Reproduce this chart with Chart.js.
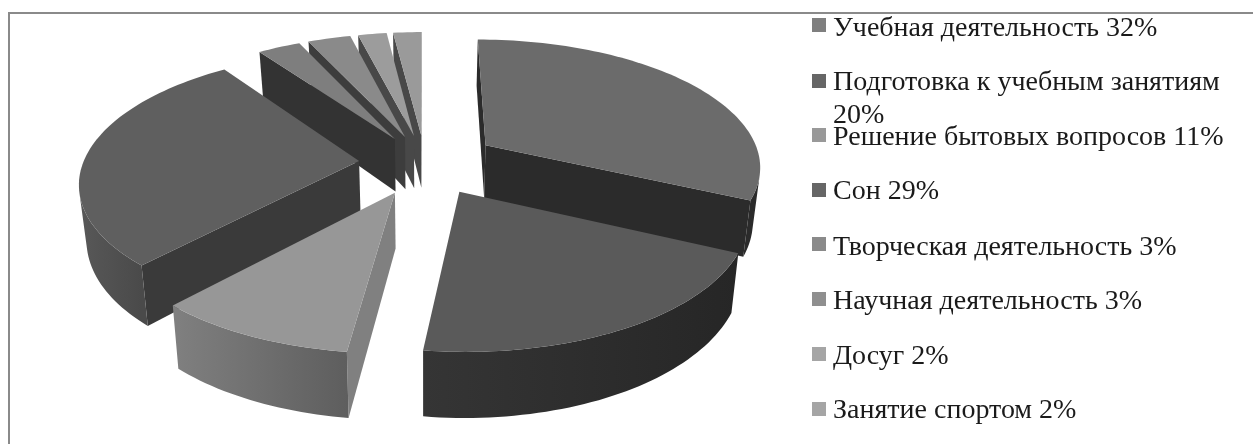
<!DOCTYPE html>
<html>
<head>
<meta charset="utf-8">
<script src="https://cdn.jsdelivr.net/npm/chart.js@4"></script>
<style>
    html, body { margin: 0; padding: 0; background: #fff; overflow: hidden; }
    #wrap { position: relative; width: 1253px; height: 444px; }
    #frame { position: absolute; left: 8px; top: 12px; right: -4px; bottom: -4px; border: 2px solid #8a8a8a; }
    #legend { position: absolute; left: 0; top: 0; font-family: "Liberation Serif", serif; font-size: 28px; color: #1a1a1a; }
    .row { position: absolute; left: 833px; width: 400px; line-height: 33px; white-space: normal; }
    .box { position: absolute; left: -21px; width: 14px; height: 14px; }
</style>
</head>
<body>
<div id="wrap">
    <canvas id="grafico"></canvas>
    <div id="frame"></div>
    <div id="legend"></div>
</div>
<script>
const categorias = ['Учебная деятельность', 'Подготовка к учебным занятиям', 'Решение бытовых вопросов', 'Сон', 'Творческая деятельность', 'Научная деятельность', 'Досуг', 'Занятие спортом'];
// lo que dice la leyenda
const porcentajes = [32, 20, 11, 29, 3, 3, 2, 2];
// tamano de cada porcion leido del dibujo, no coincide exacto con la leyenda
const sectores = [32.6, 20.4, 10, 28.9, 3, 3, 2, 2];

// colores
const colorLeyenda = ['#7f7f7f', '#666666', '#999999', '#666666', '#8a8a8a', '#8f8f8f', '#a5a5a5', '#a5a5a5'];
const colorTapa = ['#6b6b6b', '#5a5a5a', '#979797', '#5f5f5f', '#7e7e7e', '#8a8a8a', '#9c9c9c', '#9a9a9a'];
const colorPared = ['#2b2b2b', '#2b2b2b', '#808080', '#3a3a3a', '#333333', '#3d3d3d', '#484848', '#484848'];
const colorLadoIni = ['#2b2b2b', '#262626', '#5e5e5e', '#4a4a4a', '#3c3c3c', '#3c3c3c', '#464646', '#464646'];
const colorLadoFin = ['#2b2b2b', '#353535', '#808080', '#585858', '#3c3c3c', '#3c3c3c', '#464646', '#464646'];

// separacion de cada porcion
const separacion = [52, 49, 49, 47, 44, 44, 44, 44];

// orden de pintado, de atras hacia adelante
const ordenPintado = [7, 6, 5, 4, 0, 3, 2, 1];

// camara de la vista 3d
const camara = { x0: 425, y0: 163, escalaX: 276, escalaY: 126.6, fuga: 0.15, alto: 54, fugaAlto: 0.022 };

function proyectar(u, v, z) {
    const s = 1 / (1 - camara.fuga * v);
    return {
        x: camara.x0 + camara.escalaX * u * s * (1 - camara.fugaAlto * z),
        y: camara.y0 + camara.escalaY * v * s + z * camara.alto * s
    };
}

function relleno(ctx, puntos, color) {
    ctx.beginPath();
    puntos.forEach((p, i) => i ? ctx.lineTo(p.x, p.y) : ctx.moveTo(p.x, p.y));
    ctx.closePath();
    ctx.fillStyle = color;
    ctx.fill();
}

// la cara se ve solo si mira hacia la camara
function visible(a, b) {
    const p = proyectar(a.u, a.v, 0), q = proyectar(b.u, b.v, 0), r = proyectar(b.u, b.v, 1);
    return (q.x - p.x) * (r.y - p.y) - (q.y - p.y) * (r.x - p.x) < 0;
}

function pared(ctx, a, b, color) {
    if (!visible(a, b)) return;
    relleno(ctx, [proyectar(a.u, a.v, 0), proyectar(b.u, b.v, 0), proyectar(b.u, b.v, 1), proyectar(a.u, a.v, 1)], color);
}

function ladoCurvo(ctx, borde, i) {
    const vistos = borde.filter((b, k) => (k > 0 && visible(borde[k - 1], b)) || (k < borde.length - 1 && visible(b, borde[k + 1])));
    if (vistos.length < 2) return;
    const arriba = vistos.map(b => proyectar(b.u, b.v, 0));
    const abajo = vistos.map(b => proyectar(b.u, b.v, 1)).reverse();
    const grad = ctx.createLinearGradient(arriba[0].x, 0, arriba[arriba.length - 1].x, 0);
    grad.addColorStop(0, colorLadoIni[i]);
    grad.addColorStop(1, colorLadoFin[i]);
    relleno(ctx, arriba.concat(abajo), grad);
}

function dibujarPorcion(ctx, arc, i) {
    const p = arc.getProps(['startAngle', 'endAngle', 'outerRadius']);
    const medio = (p.startAngle + p.endAngle) / 2;
    const ox = Math.cos(medio) * arc.options.offset / p.outerRadius;
    const oy = Math.sin(medio) * arc.options.offset / p.outerRadius;

    const centro = { u: ox, v: oy };
    const borde = [];
    const pasos = Math.max(6, Math.round((p.endAngle - p.startAngle) * 40));
    for (let k = 0; k <= pasos; k++) {
        const ang = p.startAngle + (p.endAngle - p.startAngle) * k / pasos;
        borde.push({ u: ox + Math.cos(ang), v: oy + Math.sin(ang) });
    }

    pared(ctx, centro, borde[0], colorPared[i]);
    pared(ctx, borde[pasos], centro, colorPared[i]);
    ladoCurvo(ctx, borde, i);
    relleno(ctx, [centro].concat(borde).map(b => proyectar(b.u, b.v, 0)), colorTapa[i]);
}

const pie3d = {
    id: 'pie3d',
    beforeDatasetsDraw(chart) {
        const ctx = chart.ctx;
        const arcos = chart.getDatasetMeta(0).data;
        ctx.save();
        ordenPintado.forEach(i => dibujarPorcion(ctx, arcos[i], i));
        ctx.restore();
        return false;
    }
};

const leyenda = document.getElementById('legend');
const filaY = [10, 64, 119, 173, 229, 283, 338, 392];
const cajaY = [18, 74, 128, 183, 237, 292, 347, 402];
categorias.forEach((nombre, i) => {
    const fila = document.createElement('div');
    fila.className = 'row';
    fila.style.top = filaY[i] + 'px';
    fila.textContent = nombre + ' ' + porcentajes[i] + '%';
    const caja = document.createElement('span');
    caja.className = 'box';
    caja.style.top = (cajaY[i] - filaY[i]) + 'px';
    caja.style.background = colorLeyenda[i];
    fila.appendChild(caja);
    leyenda.appendChild(fila);
});

const canvas = document.getElementById('grafico');
canvas.width = 1253;
canvas.height = 444;
new Chart(canvas, {
    type: 'pie',
    data: {
        labels: categorias,
        datasets: [{
            label: 'Бюджет времени',
            data: sectores,
            backgroundColor: colorTapa,
            borderWidth: 0,
            offset: separacion
        }]
    },
    options: {
        responsive: false,
        animation: false,
        events: [],
        plugins: {
            legend: { display: false },
            tooltip: { enabled: false }
        }
    },
    plugins: [pie3d]
});
</script>
</body>
</html>
